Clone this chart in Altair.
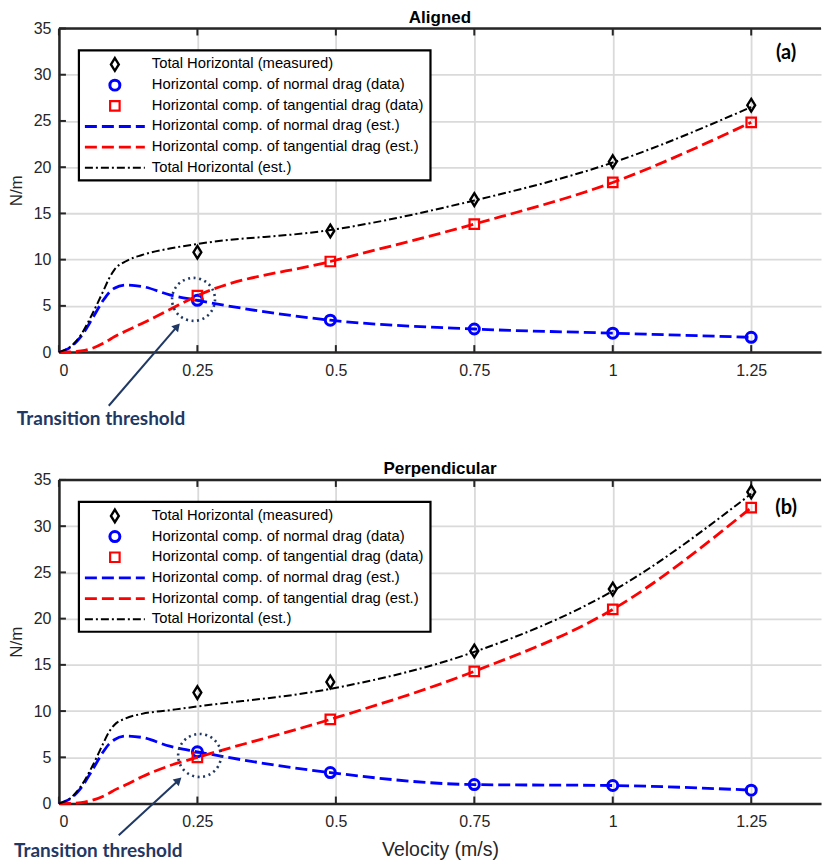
import altair as alt
import pandas as pd

# ---------------- data ----------------
x_pts = [0.25, 0.49, 0.75, 1.0, 1.25]
a_total_meas = [10.8, 13.1, 16.5, 20.6, 26.7]
a_normal = [5.6, 3.45, 2.5, 2.05, 1.6]
a_tang = [6.1, 9.8, 13.85, 18.35, 24.85]
b_total_meas = [12.0, 13.15, 16.5, 23.2, 33.7]
b_normal = [5.6, 3.35, 2.05, 1.95, 1.45]
b_tang = [5.0, 9.1, 14.3, 21.0, 32.0]

x_est = [0, 0.02, 0.04, 0.06, 0.08, 0.09, 0.1, 0.12, 0.15, 0.2, 0.25, 0.49, 0.75, 1.0, 1.25]
a_normal_est = [0, 0.5, 1.7, 3.6, 5.6, 6.4, 6.9, 7.25, 7.1, 6.2, 5.6, 3.45, 2.5, 2.05, 1.6]
a_tang_est = [0, 0.02, 0.12, 0.4, 0.95, 1.3, 1.65, 2.25, 3.1, 4.6, 6.1, 9.8, 13.85, 18.35, 24.85]
a_total_est = [0, 0.55, 1.9, 4.1, 6.6, 7.9, 8.9, 9.8, 10.5, 11.2, 11.7, 13.2, 16.4, 20.5, 26.5]
b_normal_est = [0, 0.5, 1.7, 3.6, 5.6, 6.4, 6.9, 7.3, 7.15, 6.2, 5.6, 3.35, 2.05, 1.95, 1.45]
b_tang_est = [0, 0.02, 0.1, 0.35, 0.8, 1.1, 1.45, 2.0, 2.9, 4.1, 5.0, 9.1, 14.3, 21.0, 32.0]
b_total_est = [0, 0.55, 1.9, 4.0, 6.5, 7.7, 8.5, 9.2, 9.7, 10.1, 10.5, 12.4, 16.4, 23.0, 33.5]

x_ticks = [0, 0.25, 0.5, 0.75, 1.0, 1.25]
y_ticks = [0, 5, 10, 15, 20, 25, 30, 35]

legend_labels = [
    "Total Horizontal (measured)",
    "Horizontal comp. of normal drag (data)",
    "Horizontal comp. of tangential drag (data)",
    "Horizontal comp. of normal drag (est.)",
    "Horizontal comp. of tangential drag (est.)",
    "Total Horizontal (est.)",
]
note_text = "Transition threshold"

# annotation anchors (data coordinates)
a_circle = [0.243, 5.7]
a_arrow = [0.09, -5.8, 0.2136, 2.79]
a_arrow_angle = 41
a_note = [-0.076, -7.2]
a_tag = [1.313, 32.3]
b_circle = [0.254, 5.2]
b_arrow = [0.108, -3.44, 0.216, 2.52]
b_arrow_angle = 47
b_note = [-0.081, -5.17]
b_tag = [1.313, 32.0]

# ---------------- style ----------------
W, H = 763, 324
X_MAX = 1.376
FONT = "Liberation Sans"
NAVY = "#1f3864"
AXC = "#262626"
DIAMOND = "M0,-1L0.62,0L0,1L-0.62,0Z"
DASH = [12, 5]
DASHDOT = [8, 3, 2, 3]


def one():
    return pd.DataFrame({"k": [0]})


def panel(title, meas, normal, tang, n_est, t_est, tot_est,
          circ, arrow, angle, note, tag, tag_text, xtitle):
    xs = alt.Scale(domain=[0, X_MAX], nice=False, zero=False)
    ys = alt.Scale(domain=[0, 35], nice=False, zero=False)
    pts = pd.DataFrame({"v": x_pts, "meas": meas, "normal": normal, "tang": tang})
    est = pd.DataFrame({"v": x_est, "n": n_est, "t": t_est, "tot": tot_est})

    xaxis = alt.Axis(values=x_ticks, format=".2~f", grid=True, ticks=False,
                     labelPadding=10, domainWidth=2.5, domainColor=AXC, titlePadding=11,
                     titleFontSize=19.5)
    yaxis = alt.Axis(values=y_ticks, format="d", grid=True, ticks=False,
                     labelPadding=8, domainWidth=2.5, domainColor=AXC,
                     minExtent=28, maxExtent=28, titlePadding=5, titleFontSize=17)

    def X(f):
        if xtitle:
            return alt.X(f, scale=xs, axis=xaxis, title=xtitle)
        return alt.X(f, scale=xs, axis=xaxis, title=None)

    def Y(f):
        return alt.Y(f, scale=ys, axis=yaxis, title="N/m")

    layers = []
    base = alt.Chart(pts).mark_point(opacity=0).encode(x=X("v:Q"), y=Y("meas:Q"))
    layers.append(base)

    # frame: top spine and inward ticks
    tdf = pd.DataFrame({"xt": x_ticks})
    ydf = pd.DataFrame({"yt": y_ticks})
    layers.append(alt.Chart(one()).mark_rule(color=AXC, strokeWidth=2.5).encode(
        x=alt.value(0), x2=alt.value(W), y=alt.value(0)))
    layers.append(alt.Chart(tdf).mark_rule(color=AXC, strokeWidth=2).encode(
        x=X("xt:Q"), y=alt.value(0), y2=alt.value(7)))
    layers.append(alt.Chart(tdf).mark_rule(color=AXC, strokeWidth=2).encode(
        x=X("xt:Q"), y=alt.value(H), y2=alt.value(H - 7)))
    layers.append(alt.Chart(ydf).mark_rule(color=AXC, strokeWidth=2).encode(
        y=Y("yt:Q"), x=alt.value(0), x2=alt.value(7)))

    # data markers
    layers.append(alt.Chart(pts).mark_point(shape=DIAMOND, filled=False, size=160,
                                            strokeWidth=2.4, color="black", opacity=1)
                  .encode(x=X("v:Q"), y=Y("meas:Q")))
    layers.append(alt.Chart(pts).mark_point(shape="circle", filled=False, size=100,
                                            strokeWidth=3, color="#0000ff", opacity=1)
                  .encode(x=X("v:Q"), y=Y("normal:Q")))
    layers.append(alt.Chart(pts).mark_point(shape="square", filled=False, size=90,
                                            strokeWidth=2.2, color="#ff0000", opacity=1)
                  .encode(x=X("v:Q"), y=Y("tang:Q")))

    # estimated curves
    layers.append(alt.Chart(est).mark_line(color="#0000ff", strokeWidth=2.8,
                                           strokeDash=DASH, interpolate="monotone")
                  .encode(x=X("v:Q"), y=Y("n:Q")))
    layers.append(alt.Chart(est).mark_line(color="#ff0000", strokeWidth=2.8,
                                           strokeDash=DASH, interpolate="monotone")
                  .encode(x=X("v:Q"), y=Y("t:Q")))
    layers.append(alt.Chart(est).mark_line(color="black", strokeWidth=2,
                                           strokeDash=DASHDOT, interpolate="monotone")
                  .encode(x=X("v:Q"), y=Y("tot:Q")))

    # annotations
    cdf = pd.DataFrame({"cx": [circ[0]], "cy": [circ[1]]})
    layers.append(alt.Chart(cdf).mark_point(shape="circle", filled=False, size=1850,
                                            strokeWidth=2.6, color=NAVY, opacity=1,
                                            strokeDash=[2, 3.6])
                  .encode(x=X("cx:Q"), y=Y("cy:Q")))
    adf = pd.DataFrame({"x0": [arrow[0]], "y0": [arrow[1]],
                        "x1": [arrow[2]], "y1": [arrow[3]]})
    layers.append(alt.Chart(adf).mark_rule(color=NAVY, strokeWidth=2)
                  .encode(x=X("x0:Q"), y=Y("y0:Q"), x2="x1:Q", y2="y1:Q"))
    layers.append(alt.Chart(adf).mark_point(shape="triangle-up", filled=True, size=80,
                                            color=NAVY, opacity=1, angle=angle)
                  .encode(x=X("x1:Q"), y=Y("y1:Q")))
    ndf = pd.DataFrame({"nx": [note[0]], "ny": [note[1]], "txt": [note_text]})
    layers.append(alt.Chart(ndf).mark_text(align="left", baseline="middle", font="Lato",
                                           fontSize=19, fontWeight="bold", color=NAVY)
                  .encode(x=X("nx:Q"), y=Y("ny:Q"), text="txt:N"))
    gdf = pd.DataFrame({"gx": [tag[0]], "gy": [tag[1]], "txt": [tag_text]})
    layers.append(alt.Chart(gdf).mark_text(align="center", baseline="middle", font="Lato",
                                           fontSize=20, fontWeight="bold", color="black")
                  .encode(x=X("gx:Q"), y=Y("gy:Q"), text="txt:N"))

    # legend box (drawn manually)
    lx0, lx1, ly0, ly1 = 20, 372, 22, 152
    layers.append(alt.Chart(one()).mark_rect(fill="white", stroke="black", strokeWidth=2.2)
                  .encode(x=alt.value(lx0), x2=alt.value(lx1),
                          y=alt.value(ly0), y2=alt.value(ly1)))
    row_y = [ly0 + 14 + i * 20.7 for i in range(6)]
    sym_x, ln0, ln1, tx = 56, 26, 86, 93
    layers.append(alt.Chart(one()).mark_point(shape=DIAMOND, filled=False, size=160,
                                              strokeWidth=2.4, color="black", opacity=1)
                  .encode(x=alt.value(sym_x), y=alt.value(row_y[0])))
    layers.append(alt.Chart(one()).mark_point(shape="circle", filled=False, size=100,
                                              strokeWidth=3, color="#0000ff", opacity=1)
                  .encode(x=alt.value(sym_x), y=alt.value(row_y[1])))
    layers.append(alt.Chart(one()).mark_point(shape="square", filled=False, size=90,
                                              strokeWidth=2.2, color="#ff0000", opacity=1)
                  .encode(x=alt.value(sym_x), y=alt.value(row_y[2])))
    for i, (col, dash, sw) in zip([3, 4, 5], [("#0000ff", DASH, 2.8),
                                              ("#ff0000", DASH, 2.8),
                                              ("black", DASHDOT, 2)]):
        layers.append(alt.Chart(one()).mark_rule(color=col, strokeDash=dash, strokeWidth=sw)
                      .encode(x=alt.value(ln0), x2=alt.value(ln1), y=alt.value(row_y[i])))
    for i, lab in enumerate(legend_labels):
        layers.append(alt.Chart(one()).mark_text(align="left", baseline="middle", font=FONT,
                                                 fontSize=14.8, color="black")
                      .encode(x=alt.value(tx), y=alt.value(row_y[i]), text=alt.value(lab)))

    return alt.layer(*layers).properties(
        width=W, height=H,
        title=alt.TitleParams(title, font=FONT, fontSize=17, fontWeight="bold",
                              color="black", anchor="middle", offset=-6),
    )


top = panel("Aligned", a_total_meas, a_normal, a_tang, a_normal_est, a_tang_est, a_total_est,
            a_circle, a_arrow, a_arrow_angle, a_note, a_tag, "(a)", None)
bottom = panel("Perpendicular", b_total_meas, b_normal, b_tang, b_normal_est, b_tang_est,
               b_total_est, b_circle, b_arrow, b_arrow_angle, b_note, b_tag, "(b)",
               "Velocity (m/s)")

chart = alt.vconcat(top, bottom, spacing=31).properties(
    padding={"left": 0, "top": 0, "right": 0, "bottom": 0},
    background="white",
).configure_view(stroke=None).configure_axis(
    labelFont=FONT, labelFontSize=16, labelColor=AXC,
    titleFont=FONT, titleColor=AXC, titleFontWeight="normal",
    gridColor="#dadada", gridWidth=1.8,
)

chart.save("out.html", embed_options={"renderer": "svg", "actions": False})
